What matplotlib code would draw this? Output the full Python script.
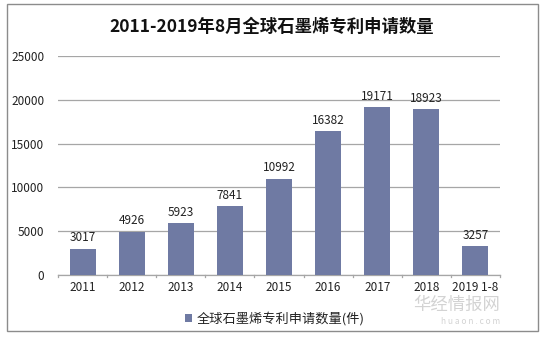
import matplotlib.pyplot as plt
from matplotlib.patches import Rectangle

plt.rcParams['font.family'] = ['Noto Sans CJK SC', 'DejaVu Sans']

# Data
years = ['2011', '2012', '2013', '2014', '2015', '2016', '2017', '2018', '2019 1-8']
patents = [3017, 4926, 5923, 7841, 10992, 16382, 19171, 18923, 3257]
yticks = [0, 5000, 10000, 15000, 20000, 25000]

bar_color = '#6F7AA3'
grid_color = '#A6A6A6'

fig = plt.figure(figsize=(5.44, 3.41), dpi=100)
fig.patch.set_facecolor('white')

# outer frame
fig.patches.append(Rectangle((7 / 544, 1 - 331 / 341), 531 / 544, 327 / 341,
                             transform=fig.transFigure, fill=False,
                             edgecolor='#8C8C8C', linewidth=1.0))

ax = fig.add_axes([58 / 544, 1 - 275 / 341, 442 / 544, 219 / 341])
x = list(range(len(years)))
bars = ax.bar(x, patents, width=0.53, color=bar_color, zorder=3,
              label='全球石墨烯专利申请数量(件)')

for xi, v in zip(x, patents):
    ax.text(xi, v + 500, str(v), ha='center', va='bottom', fontsize=8.5,
            color='#222222', zorder=4)

ax.set_xlim(-0.5, len(years) - 0.5)
ax.set_ylim(0, 25000)
ax.set_yticks(yticks)
ax.set_yticklabels([str(t) for t in yticks], fontsize=8.5, color='#222222')
ax.set_xticks(x)
ax.set_xticklabels(years, fontsize=8.5, color='#222222')
ax.tick_params(axis='y', length=0, pad=10)
ax.tick_params(axis='x', length=0, pad=4)

# category separator ticks
for b in range(len(years) + 1):
    ax.plot([b - 0.5, b - 0.5], [0, -250], color=grid_color, lw=0.9,
            clip_on=False, zorder=2)

ax.grid(axis='y', color=grid_color, linewidth=0.9, zorder=0)
for s in ['top', 'right', 'left']:
    ax.spines[s].set_visible(False)
ax.spines['bottom'].set_color(grid_color)
ax.spines['bottom'].set_linewidth(0.9)

fig.text(272 / 544, 1 - 27 / 341, '2011-2019年8月全球石墨烯专利申请数量',
         ha='center', va='center', fontsize=12.5, fontweight='bold',
         color='#111111')

ax.legend(loc='center', bbox_to_anchor=(0.49, -0.2), frameon=False,
          fontsize=9.5, handlelength=0.55, handleheight=0.55,
          handletextpad=0.3, labelcolor='#222222')

# watermark
fig.text(500 / 544, 1 - 305 / 341, '华经情报网', ha='right', va='center',
         fontsize=12.5, color='#C8C8C8', alpha=0.8)
fig.text(500 / 544, 1 - 322 / 341, 'h u a o n . c o m', ha='right', va='center',
         fontsize=6, color='#C8C8C8', alpha=0.8)

fig.savefig('out.png', dpi=100)
